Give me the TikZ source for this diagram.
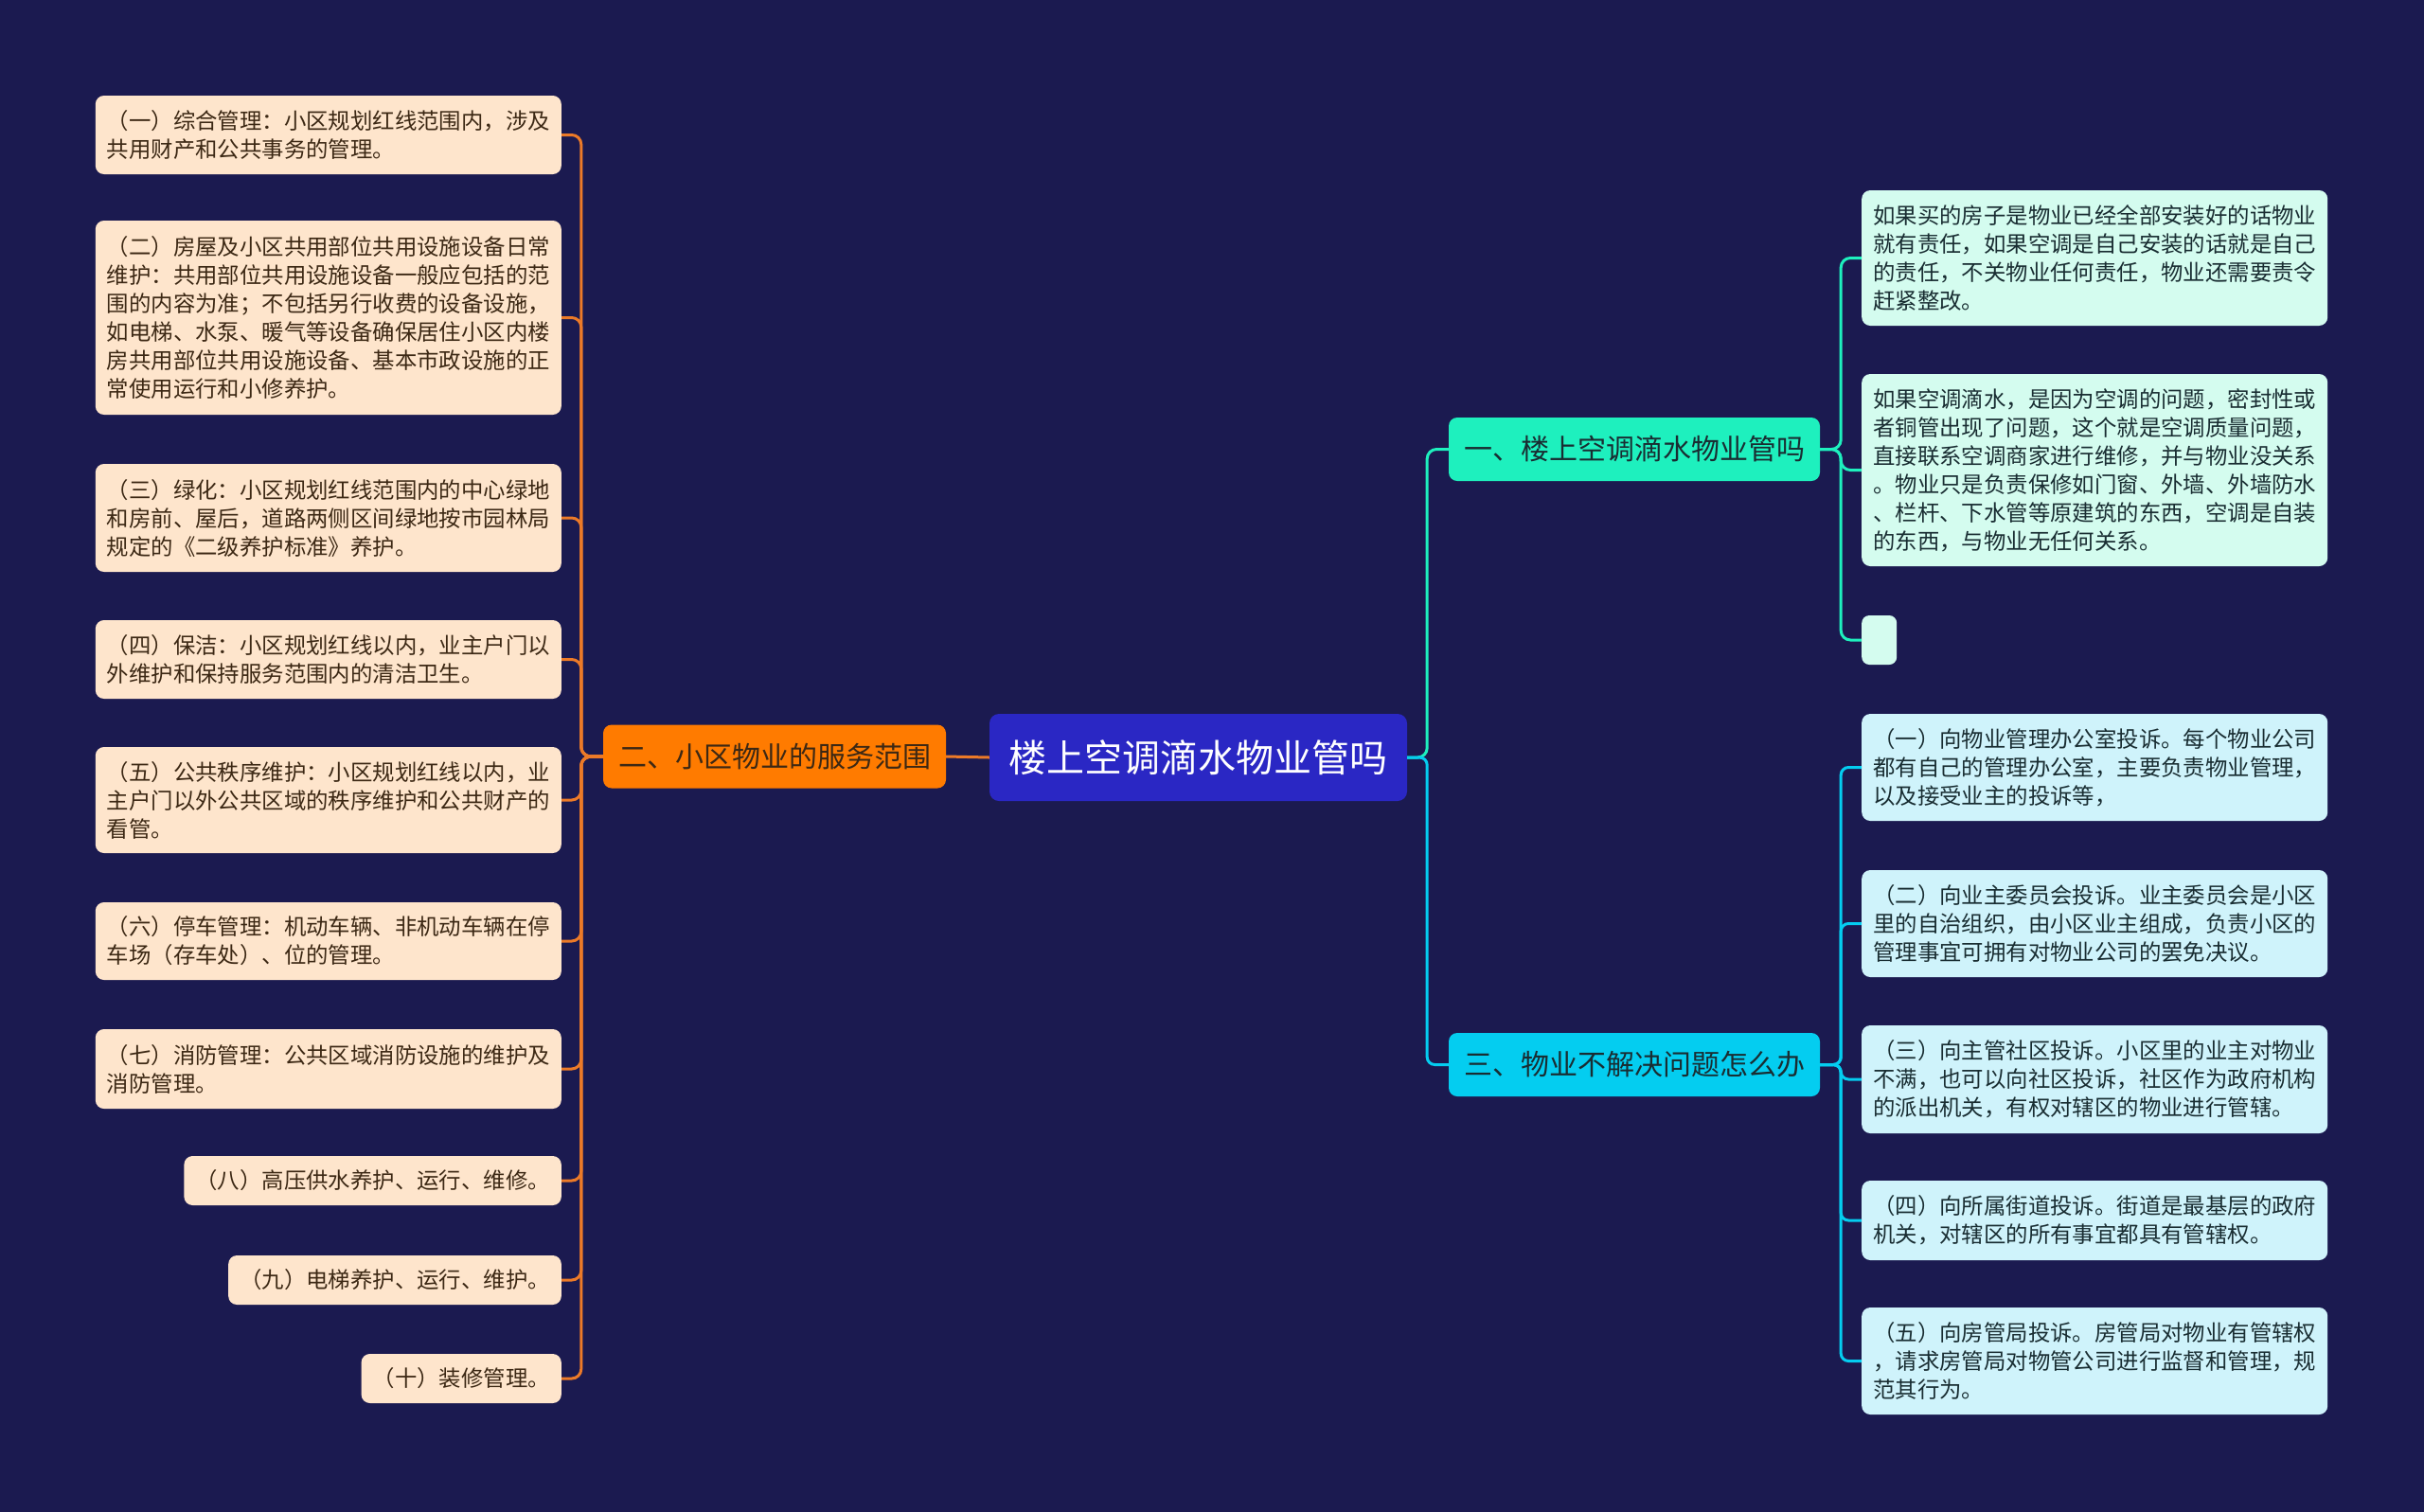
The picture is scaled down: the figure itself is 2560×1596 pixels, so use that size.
\documentclass[tikz,border=0pt]{standalone}
\usepackage{fontspec}
\setmainfont{Noto Sans CJK SC}
\definecolor{bg}{RGB}{27,26,80}
\definecolor{rootc}{RGB}{42,39,196}
\definecolor{orangec}{RGB}{255,123,0}
\definecolor{olinec}{RGB}{236,122,40}
\definecolor{peach}{RGB}{254,229,204}
\definecolor{tealc}{RGB}{30,240,190}
\definecolor{mint}{RGB}{212,252,239}
\definecolor{cyanc}{RGB}{4,205,240}
\definecolor{lcyan}{RGB}{207,243,251}
\definecolor{brownt}{RGB}{60,40,20}
\definecolor{darkt}{RGB}{25,45,50}
\tikzset{
  leafL/.style={draw=none,fill=peach,rounded corners=9pt,anchor=east,align=left,inner xsep=12pt,inner ysep=0pt,text=brownt,font=\fontsize{23.4}{30}\selectfont},
  leafR1/.style={draw=none,fill=mint,rounded corners=9pt,anchor=west,align=left,inner xsep=12pt,inner ysep=0pt,text=darkt,font=\fontsize{23.4}{30}\selectfont},
  leafR3/.style={leafR1,fill=lcyan},
  branchbox/.style={rounded corners=9pt,inner xsep=15pt,inner ysep=0pt,minimum height=67pt,font=\fontsize{30}{36}\selectfont},
  oline/.style={draw=olinec,line width=3pt,rounded corners=10pt},
  tline/.style={draw=tealc,line width=3pt,rounded corners=10pt},
  cline/.style={draw=cyanc,line width=3pt,rounded corners=8pt}
}
\begin{document}
\begin{tikzpicture}[x=1pt,y=-1pt]
\useasboundingbox (0,0) rectangle (2560,1596);
\fill[bg] (-10,-10) rectangle (2570,1606);

% root
\node[fill=rootc,rounded corners=10pt,minimum width=441pt,minimum height=92pt,inner sep=0pt,text=white,font=\fontsize{40}{46}\selectfont] (root) at (1265.5,800) {楼上空调滴水物业管吗};

% left branch
\node[branchbox,fill=orangec,text=brownt,minimum width=362pt] (orange) at (818,799) {二、小区物业的服务范围};

\node[leafL,minimum height=83pt] (L1) at (593,142.5) {（一）综合管理：小区规划红线范围内，涉及\\共用财产和公共事务的管理。};
\node[leafL,minimum height=205pt] (L2) at (593,335.5) {（二）房屋及小区共用部位共用设施设备日常\\维护：共用部位共用设施设备一般应包括的范\\围的内容为准；不包括另行收费的设备设施，\\如电梯、水泵、暖气等设备确保居住小区内楼\\房共用部位共用设施设备、基本市政设施的正\\常使用运行和小修养护。};
\node[leafL,minimum height=114pt] (L3) at (593,547) {（三）绿化：小区规划红线范围内的中心绿地\\和房前、屋后，道路两侧区间绿地按市园林局\\规定的《二级养护标准》养护。};
\node[leafL,minimum height=83pt] (L4) at (593,696.5) {（四）保洁：小区规划红线以内，业主户门以\\外维护和保持服务范围内的清洁卫生。};
\node[leafL,minimum height=112pt] (L5) at (593,845) {（五）公共秩序维护：小区规划红线以内，业\\主户门以外公共区域的秩序维护和公共财产的\\看管。};
\node[leafL,minimum height=82pt] (L6) at (593,994) {（六）停车管理：机动车辆、非机动车辆在停\\车场（存车处）、位的管理。};
\node[leafL,minimum height=84pt] (L7) at (593,1129) {（七）消防管理：公共区域消防设施的维护及\\消防管理。};
\node[leafL,minimum height=52pt] (L8) at (593,1247) {（八）高压供水养护、运行、维修。};
\node[leafL,minimum height=52pt] (L9) at (593,1352) {（九）电梯养护、运行、维护。};
\node[leafL,minimum height=52pt] (L10) at (593,1456) {（十）装修管理。};

% right branches
\node[branchbox,fill=tealc,text=darkt,minimum width=392pt] (b1) at (1726,474.5) {一、楼上空调滴水物业管吗};
\node[branchbox,fill=cyanc,text=darkt,minimum width=392pt] (b3) at (1726,1124.5) {三、物业不解决问题怎么办};

\node[leafR1,minimum height=143pt] (R1a) at (1966,272.5) {如果买的房子是物业已经全部安装好的话物业\\就有责任，如果空调是自己安装的话就是自己\\的责任，不关物业任何责任，物业还需要责令\\赶紧整改。};
\node[leafR1,minimum height=203pt] (R1b) at (1966,496.5) {如果空调滴水，是因为空调的问题，密封性或\\者铜管出现了问题，这个就是空调质量问题，\\直接联系空调商家进行维修，并与物业没关系\\。物业只是负责保修如门窗、外墙、外墙防水\\、栏杆、下水管等原建筑的东西，空调是自装\\的东西，与物业无任何关系。};
\node[leafR1,minimum height=52pt,minimum width=37pt,inner xsep=0pt,rounded corners=8pt] (R1c) at (1966,676) {};

\node[leafR3,minimum height=113pt] (R3a) at (1966,810.5) {（一）向物业管理办公室投诉。每个物业公司\\都有自己的管理办公室，主要负责物业管理，\\以及接受业主的投诉等，};
\node[leafR3,minimum height=113pt] (R3b) at (1966,975.5) {（二）向业主委员会投诉。业主委员会是小区\\里的自治组织，由小区业主组成，负责小区的\\管理事宜可拥有对物业公司的罢免决议。};
\node[leafR3,minimum height=114pt] (R3c) at (1966,1140) {（三）向主管社区投诉。小区里的业主对物业\\不满，也可以向社区投诉，社区作为政府机构\\的派出机关，有权对辖区的物业进行管辖。};
\node[leafR3,minimum height=84pt] (R3d) at (1966,1289) {（四）向所属街道投诉。街道是最基层的政府\\机关，对辖区的所有事宜都具有管辖权。};
\node[leafR3,minimum height=113pt] (R3e) at (1966,1437.5) {（五）向房管局投诉。房管局对物业有管辖权\\，请求房管局对物管公司进行监督和管理，规\\范其行为。};

% connectors
\draw[oline] (root.west) -- (orange.east);
\foreach \n in {L1,L2,L3,L4,L5,L6,L7,L8,L9,L10}
  \draw[oline] (orange.west) -- ++(-23,0) |- (\n.east);

\draw[tline] (root.east) -- ++(21,0) |- (b1.west);
\draw[cline] (root.east) -- ++(21,0) |- (b3.west);

\foreach \n in {R1a,R1b,R1c}
  \draw[tline] (b1.east) -- ++(22,0) |- (\n.west);
\foreach \n in {R3a,R3b,R3c,R3d,R3e}
  \draw[cline] (b3.east) -- ++(22,0) |- (\n.west);
\end{tikzpicture}
\end{document}
